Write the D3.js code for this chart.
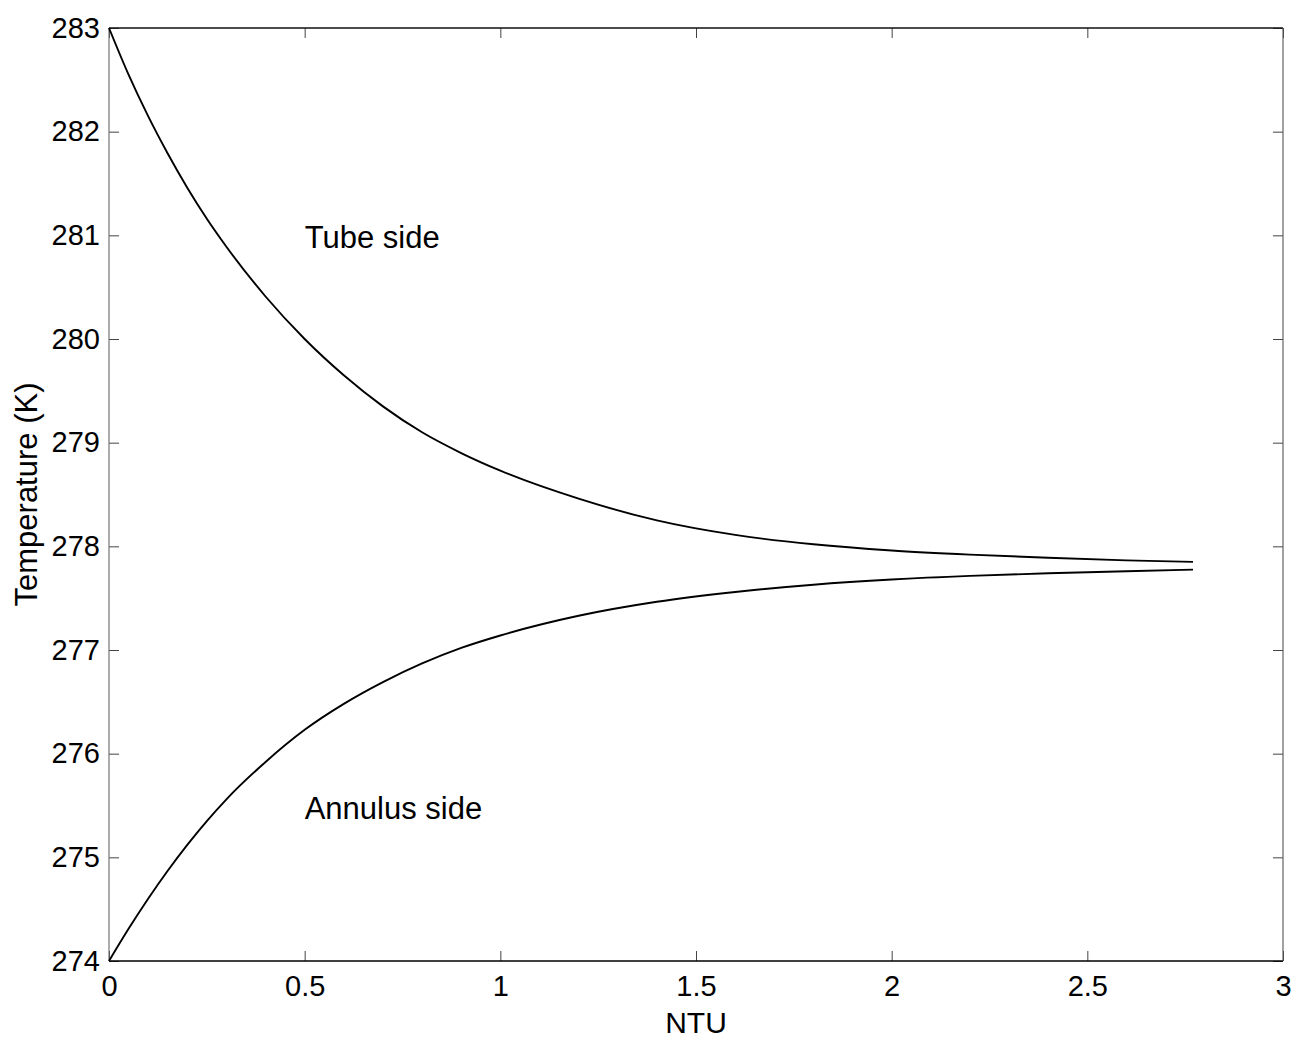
<!DOCTYPE html>
<html>
<head>
<meta charset="utf-8">
<script src="https://cdn.jsdelivr.net/npm/d3@7/dist/d3.min.js"></script>
<style>
  html, body { margin: 0; padding: 0; background: #fff; }
  svg { display: block; font-family: Arial, "Liberation Sans", Helvetica, sans-serif; }
</style>
</head>
<body>
<svg id="chart" width="1294" height="1040"></svg>
<script>
// Number of transfer units along the exchanger
const ntu = [0, 0.05, 0.1, 0.15, 0.2, 0.25, 0.3, 0.4, 0.5, 0.6, 0.7, 0.8, 0.9, 1.0,
             1.2, 1.4, 1.6, 1.8, 2.0, 2.2, 2.4, 2.6, 2.77];

// Fluid temperature (K) on each side of the double-pipe exchanger
const tubeSide = [283.00, 282.55, 282.15, 281.79, 281.46, 281.16, 280.89, 280.41, 280.00,
                  279.65, 279.35, 279.10, 278.90, 278.73, 278.46, 278.25, 278.11, 278.02,
                  277.96, 277.92, 277.89, 277.865, 277.85];
const annulusSide = [274.00, 274.31, 274.60, 274.87, 275.12, 275.35, 275.56, 275.92, 276.23,
                     276.48, 276.69, 276.87, 277.02, 277.14, 277.33, 277.465, 277.56, 277.63,
                     277.68, 277.715, 277.74, 277.76, 277.775];

const xTicks = [0, 0.5, 1, 1.5, 2, 2.5, 3];
const yTicks = [274, 275, 276, 277, 278, 279, 280, 281, 282, 283];

const labels = [
  { text: "Tube side", x: 0.5, y: 281.0 },
  { text: "Annulus side", x: 0.5, y: 275.5 }
];

const W = 1294, H = 1040;
const margin = { left: 109, right: W - 1283, top: 28, bottom: H - 961 };
const svg = d3.select("#chart");

const x = d3.scaleLinear().domain([0, 3]).range([margin.left, W - margin.right]);
const y = d3.scaleLinear().domain([274, 283]).range([H - margin.bottom, margin.top]);

const tickLen = 10;
const fontSize = 29;

// Inward ticks on all four sides
const g = svg.append("g");

const bottomAxis = g.append("g")
  .attr("transform", `translate(0,${y(274)})`)
  .call(d3.axisBottom(x).tickValues(xTicks).tickSize(-tickLen).tickPadding(14)
        .tickFormat(d3.format("")));
const topAxis = g.append("g")
  .attr("transform", `translate(0,${y(283)})`)
  .call(d3.axisTop(x).tickValues(xTicks).tickSize(-tickLen).tickFormat(""));
const leftAxis = g.append("g")
  .attr("transform", `translate(${x(0)},0)`)
  .call(d3.axisLeft(y).tickValues(yTicks).tickSize(-tickLen).tickPadding(9)
        .tickFormat(d3.format("d")));
const rightAxis = g.append("g")
  .attr("transform", `translate(${x(3)},0)`)
  .call(d3.axisRight(y).tickValues(yTicks).tickSize(-tickLen).tickFormat(""));

[bottomAxis, topAxis, leftAxis, rightAxis].forEach(a => {
  a.select(".domain").remove();
  a.selectAll(".tick line").attr("stroke", "#444").attr("stroke-width", 1);
  a.selectAll(".tick text").attr("fill", "#000").style("font-size", fontSize + "px")
    .style("font-family", "Arial, 'Liberation Sans', Helvetica, sans-serif");
});
bottomAxis.selectAll(".tick text").attr("dy", "0.72em").attr("y", 14);

// Plot box
g.append("line").attr("x1", x(0)).attr("x2", x(3)).attr("y1", y(274)).attr("y2", y(274))
  .attr("stroke", "#000").attr("stroke-width", 1.6);
g.append("line").attr("x1", x(0)).attr("x2", x(3)).attr("y1", y(283)).attr("y2", y(283))
  .attr("stroke", "#111").attr("stroke-width", 1.4);
g.append("line").attr("x1", x(0)).attr("x2", x(0)).attr("y1", y(274)).attr("y2", y(283))
  .attr("stroke", "#666").attr("stroke-width", 1.1);
g.append("line").attr("x1", x(3)).attr("x2", x(3)).attr("y1", y(274)).attr("y2", y(283))
  .attr("stroke", "#555").attr("stroke-width", 1.1);

// Temperature profiles
const line = d3.line().x(d => x(d[0])).y(d => y(d[1])).curve(d3.curveMonotoneX);
[tubeSide, annulusSide].forEach(series => {
  g.append("path")
    .datum(ntu.map((n, i) => [n, series[i]]))
    .attr("d", line)
    .attr("fill", "none")
    .attr("stroke", "#000")
    .attr("stroke-width", 1.9);
});

// Curve annotations
g.selectAll("text.note").data(labels).enter().append("text")
  .attr("class", "note")
  .attr("x", d => x(d.x))
  .attr("y", d => y(d.y) + 13)
  .style("font-size", "31px")
  .attr("fill", "#000")
  .text(d => d.text);

// Axis titles
svg.append("text")
  .attr("x", (x(0) + x(3)) / 2)
  .attr("y", 1033)
  .attr("text-anchor", "middle")
  .style("font-size", "30px")
  .text("NTU");

svg.append("text")
  .attr("transform", `translate(37,${(y(274) + y(283)) / 2}) rotate(-90)`)
  .attr("text-anchor", "middle")
  .style("font-size", "31px")
  .text("Temperature (K)");
</script>
</body>
</html>
